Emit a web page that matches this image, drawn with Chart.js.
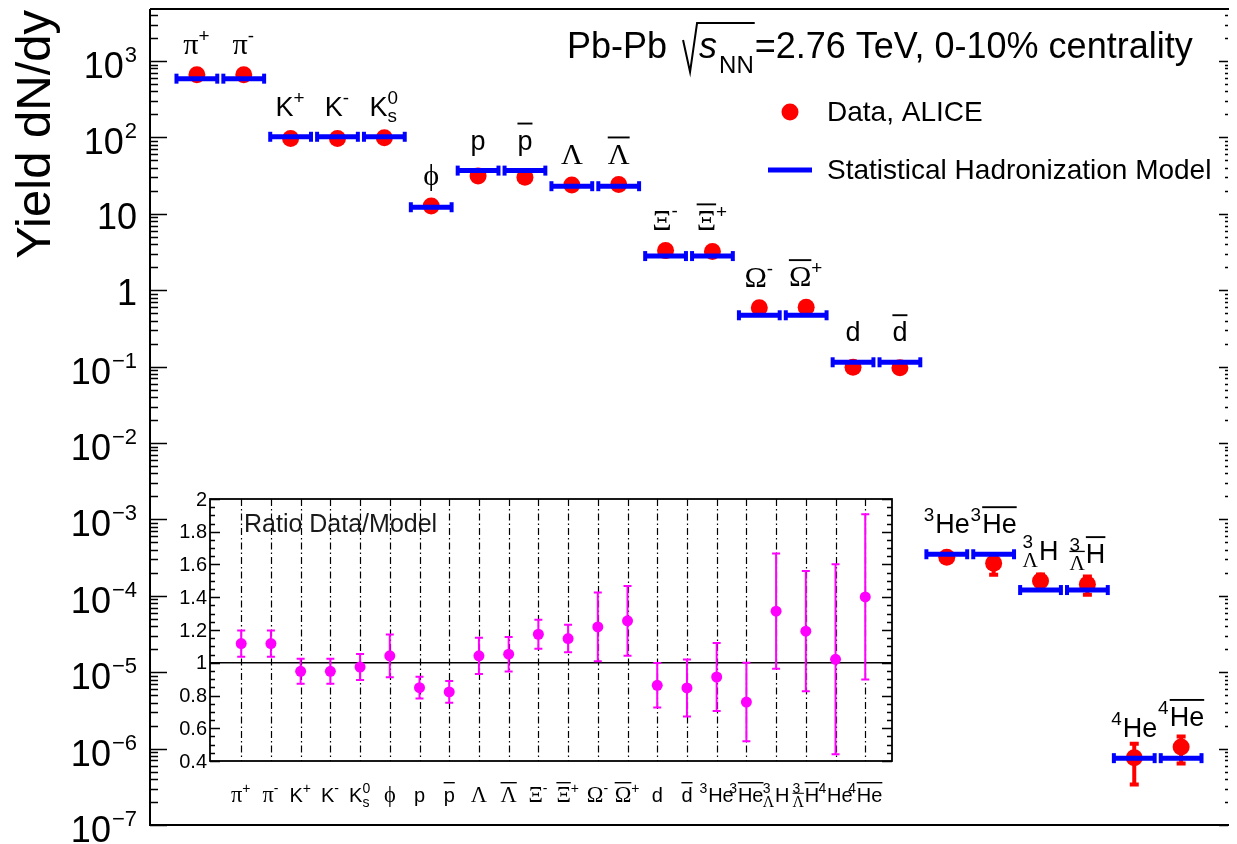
<!DOCTYPE html>
<html>
<head>
<meta charset="utf-8">
<title>Hadron yields, Pb-Pb 2.76 TeV</title>
<script src="https://cdn.jsdelivr.net/npm/chart.js@4.4.0/dist/chart.umd.min.js"></script>
<style>
  html, body { margin: 0; padding: 0; background: #fff; }
  #wrap { position: relative; width: 1237px; height: 844px; overflow: hidden; }
  #main { position: absolute; left: 0; top: 0; }
  #ratio { position: absolute; left: 170px; top: 480px; }
</style>
</head>
<body>
<div id="wrap">
  <canvas id="main" width="1237" height="844"></canvas>
  <canvas id="ratio" width="740" height="340"></canvas>
</div>
<script>
// particle names, TLatex-like markup
var particles = ['#pi^{+}', '#pi^{-}', 'K^{+}', 'K^{-}', 'K^{0}_{s}', '#phi', 'p', '#bar{p}',
  '#Lambda', '#bar{#Lambda}', '#Xi^{-}', '#bar{#Xi}^{+}', '#Omega^{-}', '#bar{#Omega}^{+}',
  'd', '#bar{d}', '^{3}He', '^{3}#bar{He}', '^{3}_{#Lambda}H', '^{3}_{#bar{#Lambda}}#bar{H}',
  '^{4}He', '^{4}#bar{He}'];

// dN/dy, statistical hadronization model
var modelYield = [588, 588, 102, 102, 102, 12.2, 36.8, 36.8, 23, 23, 2.8, 2.8, 0.47, 0.47,
  0.114, 0.114, 3.5e-4, 3.5e-4, 1.19e-4, 1.19e-4, 7.5e-7, 7.5e-7];

// dN/dy, ALICE data and uncertainties
var dataYield = [660, 660, 97, 97, 99, 12.7, 31.3, 30.2, 23.9, 24.2, 3.3, 3.22, 0.59, 0.6,
  0.098, 0.097, 3.2e-4, 2.66e-4, 1.56e-4, 1.42e-4, 7.6e-7, 1.05e-6];
var dataErr = [35, 35, 6, 6, 6, 1.2, 2.2, 2.2, 2.5, 2.5, 0.3, 0.3, 0.08, 0.08,
  0.015, 0.015, 0.3e-4, 0.83e-4, 0.4e-4, 0.42e-4, 4.3e-7, 0.43e-6];

// data / model
var ratio = [1.117, 1.117, 0.948, 0.948, 0.974, 1.042, 0.848, 0.822, 1.042, 1.052, 1.174, 1.148,
  1.219, 1.256, 0.862, 0.846, 0.913, 0.760, 1.315, 1.193, 1.021, 1.402];
var ratioErr = [0.08, 0.08, 0.076, 0.076, 0.079, 0.13, 0.066, 0.067, 0.11, 0.105, 0.089, 0.084,
  0.21, 0.213, 0.136, 0.174, 0.208, 0.24, 0.352, 0.367, 0.58, 0.505];

var yTickValues = [1e3, 1e2, 10, 1, 1e-1, 1e-2, 1e-3, 1e-4, 1e-5, 1e-6, 1e-7];
var yTickLabels = ['10^{3}', '10^{2}', '10', '1', '10^{-1}', '10^{-2}', '10^{-3}', '10^{-4}',
  '10^{-5}', '10^{-6}', '10^{-7}'];
var ratioTickValues = [0.4, 0.6, 0.8, 1, 1.2, 1.4, 1.6, 1.8, 2];
var ratioTickLabels = ['0.4', '0.6', '0.8', '1', '1.2', '1.4', '1.6', '1.8', '2'];

var titleText = 'Pb-Pb';
var titleEnergy = '=2.76 TeV, 0-10% centrality';
var legendData = 'Data, ALICE';
var legendModel = 'Statistical Hadronization Model';
var ratioTitle = 'Ratio Data/Model';
var yTitle = 'Yield dN/dy';

var SANS = '"Liberation Sans", Arial, sans-serif';
var SERIF = '"Liberation Serif", "Times New Roman", serif';
var GREEK = { pi: '\u03c0', phi: '\u03d5', Lambda: '\u039b', Xi: '\u039e', Omega: '\u03a9' };
var RED = '#ff0000', BLUE = '#0000ff', MAGENTA = '#ff00ff';

// ---- tiny TLatex subset: #greek, #bar{}, ^{}, _{} ----
function parseTex(s) {
  var out = [], i = 0;
  function group() {
    if (s[i] === '{') {
      var depth = 1, j = i + 1;
      while (depth) {
        if (s[j] === '{') depth++;
        else if (s[j] === '}') depth--;
        j++;
      }
      var inner = s.slice(i + 1, j - 1);
      i = j;
      return parseTex(inner);
    }
    return parseTex(s[i++]);
  }
  while (i < s.length) {
    var c = s[i];
    if (c === '^' || c === '_') {
      var node = { kind: 'script', sup: null, sub: null };
      while (s[i] === '^' || s[i] === '_') {
        var which = s[i] === '^' ? 'sup' : 'sub';
        i++;
        node[which] = group();
      }
      out.push(node);
    } else if (c === '#') {
      var m = /^#([A-Za-z]+)/.exec(s.slice(i));
      i += m[0].length;
      if (m[1] === 'bar') out.push({ kind: 'bar', body: group() });
      else out.push({ kind: 'text', text: GREEK[m[1]], greek: true });
    } else {
      var j = i;
      while (j < s.length && '^_#'.indexOf(s[j]) < 0) j++;
      out.push({ kind: 'text', text: s.slice(i, j) });
      i = j;
    }
  }
  return out;
}

function fontFor(node, size) {
  return node.greek ? (size * 1.12).toFixed(1) + 'px ' + SERIF : size + 'px ' + SANS;
}

function texWidth(ctx, nodes, size) {
  var w = 0;
  nodes.forEach(function (n) {
    if (n.kind === 'text') {
      ctx.font = fontFor(n, size);
      w += ctx.measureText(n.text).width;
    } else if (n.kind === 'bar') {
      w += texWidth(ctx, n.body, size);
    } else {
      var s = size * 0.7;
      w += Math.max(n.sup ? texWidth(ctx, n.sup, s) : 0, n.sub ? texWidth(ctx, n.sub, s) : 0) + size * 0.04;
    }
  });
  return w;
}

function texDraw(ctx, nodes, x, y, size) {
  nodes.forEach(function (n) {
    if (n.kind === 'text') {
      ctx.font = fontFor(n, size);
      ctx.fillText(n.text, x, y);
      x += ctx.measureText(n.text).width;
    } else if (n.kind === 'bar') {
      var w = texWidth(ctx, n.body, size);
      texDraw(ctx, n.body, x, y, size);
      ctx.fillRect(x, y - size * 1.0, w, Math.max(1, size * 0.07));
      x += w;
    } else {
      var s = size * 0.7, ws = 0, wb = 0;
      if (n.sup) { ws = texWidth(ctx, n.sup, s); texDraw(ctx, n.sup, x, y - size * 0.45, s); }
      if (n.sub) { wb = texWidth(ctx, n.sub, s); texDraw(ctx, n.sub, x, y + size * 0.24, s); }
      x += Math.max(ws, wb) + size * 0.04;
    }
  });
  return x;
}

function texCentered(ctx, str, cx, y, size) {
  var nodes = parseTex(str);
  ctx.textAlign = 'left';
  ctx.textBaseline = 'alphabetic';
  texDraw(ctx, nodes, cx - texWidth(ctx, nodes, size) / 2, y, size);
}

// ---- main chart: yields ----
function modelSegments() {
  var pts = [];
  modelYield.forEach(function (v, i) {
    pts.push({ x: i + 1 - 0.435, y: v });
    pts.push({ x: i + 1 + 0.435, y: v });
    pts.push({ x: i + 1.5, y: null });
  });
  return pts;
}

var mainDecor = {
  id: 'mainDecor',
  beforeDatasetsDraw: function (chart) {
    var ctx = chart.ctx, xs = chart.scales.x, ys = chart.scales.y;
    ctx.save();
    ctx.strokeStyle = RED;
    ctx.lineWidth = 4;
    dataYield.forEach(function (v, i) {
      var px = xs.getPixelForValue(i + 1);
      var lo = ys.getPixelForValue(v - dataErr[i]);
      var hi = ys.getPixelForValue(v + dataErr[i]);
      ctx.beginPath();
      ctx.moveTo(px, lo); ctx.lineTo(px, hi);
      ctx.moveTo(px - 4.5, lo - 1); ctx.lineTo(px + 4.5, lo - 1);
      ctx.moveTo(px - 4.5, hi + 1); ctx.lineTo(px + 4.5, hi + 1);
      ctx.stroke();
    });
    ctx.restore();
  },
  afterDraw: function (chart) {
    var ctx = chart.ctx, a = chart.chartArea, xs = chart.scales.x, ys = chart.scales.y;
    ctx.save();
    ctx.fillStyle = '#000';
    ctx.strokeStyle = '#000';

    // frame
    ctx.lineWidth = 2;
    ctx.beginPath();
    ctx.moveTo(a.left, a.top); ctx.lineTo(a.left, a.bottom); ctx.lineTo(a.right + 1, a.bottom);
    ctx.moveTo(a.left, a.top); ctx.lineTo(a.right + 1, a.top);
    ctx.stroke();

    // log ticks, left and right
    ctx.lineWidth = 1.5;
    ctx.beginPath();
    for (var d = -7; d <= 3; d++) {
      for (var k = 1; k <= 9; k++) {
        var v = k * Math.pow(10, d);
        if (v > ys.max) break;
        var py = Math.round(ys.getPixelForValue(v)) + 0.5;
        var major = k === 1;
        ctx.moveTo(a.left, py); ctx.lineTo(a.left + (major ? 17 : 8), py);
        ctx.moveTo(a.right, py); ctx.lineTo(a.right - (major ? 9 : 3), py);
      }
    }
    ctx.stroke();

    // tick labels
    ctx.textBaseline = 'alphabetic';
    ctx.textAlign = 'right';
    yTickValues.forEach(function (v, i) {
      var py = ys.getPixelForValue(v);
      var m = /^([^\^]+)(?:\^\{(.+)\})?$/.exec(yTickLabels[i]);
      var right = 137;
      if (!m[2]) {
        ctx.font = '36px ' + SANS;
        ctx.fillText(m[1], right, py + 15);
      } else {
        var ex = m[2].replace('-', '\u2212');
        ctx.font = '22px ' + SANS;
        var w = ctx.measureText(ex).width;
        ctx.fillText(ex, right, py + 1);
        ctx.font = '36px ' + SANS;
        ctx.fillText(m[1], right - w - 1, py + 17);
      }
    });

    // y title
    ctx.save();
    ctx.translate(50, 10);
    ctx.rotate(-Math.PI / 2);
    ctx.textAlign = 'right';
    ctx.font = '49px ' + SANS;
    ctx.fillText(yTitle, 0, 0);
    ctx.restore();

    // particle labels
    particles.forEach(function (p, i) {
      var px = xs.getPixelForValue(i + 1);
      var top = Math.min(ys.getPixelForValue(modelYield[i]), ys.getPixelForValue(dataYield[i]));
      texCentered(ctx, p, px, top - 21, 27);
    });

    // title with sqrt(s_NN)
    ctx.textAlign = 'left';
    ctx.font = '36px ' + SANS;
    var x = 567, y = 58;
    ctx.fillText(titleText, x, y);
    x += ctx.measureText(titleText + ' ').width + 6;
    ctx.font = 'italic 36px ' + SANS;
    var sw = ctx.measureText('s').width;
    ctx.font = '24px ' + SANS;
    var nw = ctx.measureText('NN').width;
    ctx.lineWidth = 2;
    ctx.beginPath();
    ctx.moveTo(x, y - 18); ctx.lineTo(x + 7, y + 14); ctx.lineTo(x + 14, y - 35);
    ctx.lineTo(x + 17 + sw + 2 + nw, y - 35);
    ctx.stroke();
    x += 16;
    ctx.font = 'italic 36px ' + SANS;
    ctx.fillText('s', x, y);
    x += sw + 2;
    ctx.font = '24px ' + SANS;
    ctx.fillText('NN', x, y + 15);
    x += nw + 1;
    ctx.font = '36px ' + SANS;
    ctx.fillText(titleEnergy, x, y);

    // legend
    ctx.fillStyle = RED;
    ctx.beginPath();
    ctx.arc(790, 112, 8.5, 0, Math.PI * 2);
    ctx.fill();
    ctx.strokeStyle = BLUE;
    ctx.lineWidth = 5;
    ctx.beginPath();
    ctx.moveTo(768, 170); ctx.lineTo(812, 170);
    ctx.stroke();
    ctx.fillStyle = '#000';
    ctx.font = '28px ' + SANS;
    ctx.textBaseline = 'middle';
    ctx.fillText(legendData, 827, 113);
    ctx.fillText(legendModel, 827, 171);
    ctx.restore();
  }
};

new Chart(document.getElementById('main').getContext('2d'), {
  type: 'scatter',
  data: {
    datasets: [{
      type: 'line',
      label: 'Statistical Hadronization Model',
      data: modelSegments(),
      borderColor: BLUE,
      borderWidth: 5,
      spanGaps: false,
      pointStyle: 'line',
      rotation: 90,
      pointRadius: 5,
      pointHoverRadius: 5,
      pointBorderWidth: 4,
      pointBorderColor: BLUE,
      pointBackgroundColor: BLUE
    }, {
      label: 'Data, ALICE',
      data: dataYield.map(function (v, i) { return { x: i + 1, y: v }; }),
      backgroundColor: RED,
      borderWidth: 0,
      pointRadius: 8.5,
      pointHoverRadius: 8.5
    }]
  },
  options: {
    responsive: false,
    animation: false,
    events: [],
    layout: { padding: { left: 150, top: 8, right: 1, bottom: 19 } },
    plugins: { legend: { display: false }, tooltip: { enabled: false } },
    scales: {
      x: { type: 'linear', min: 0, max: 23, display: false },
      y: { type: 'logarithmic', min: 1e-7, max: 4.8e3, display: false }
    }
  },
  plugins: [mainDecor]
});

// ---- inset: ratio data/model ----
var ratioDecor = {
  id: 'ratioDecor',
  beforeDatasetsDraw: function (chart) {
    var ctx = chart.ctx, a = chart.chartArea, xs = chart.scales.x, ys = chart.scales.y;
    ctx.save();
    ctx.fillStyle = '#1a1a1a';
    ctx.font = '25px ' + SANS;
    ctx.textBaseline = 'alphabetic';
    ctx.fillText(ratioTitle, a.left + 34, a.top + 33);

    // dash-dot guide at each species
    ctx.strokeStyle = '#000';
    ctx.lineWidth = 1.2;
    ctx.setLineDash([7, 3, 1.5, 3]);
    ctx.beginPath();
    particles.forEach(function (p, i) {
      var px = Math.round(xs.getPixelForValue(i + 1)) + 0.5;
      ctx.moveTo(px, a.top); ctx.lineTo(px, a.bottom);
    });
    ctx.stroke();
    ctx.setLineDash([]);

    // unity line
    var y1 = ys.getPixelForValue(1);
    ctx.lineWidth = 1.6;
    ctx.beginPath();
    ctx.moveTo(a.left, y1); ctx.lineTo(a.right, y1);
    ctx.stroke();

    // error bars
    ctx.strokeStyle = MAGENTA;
    ctx.lineWidth = 2;
    ctx.beginPath();
    ratio.forEach(function (v, i) {
      var px = xs.getPixelForValue(i + 1);
      var lo = ys.getPixelForValue(v - ratioErr[i]);
      var hi = ys.getPixelForValue(v + ratioErr[i]);
      ctx.moveTo(px, lo); ctx.lineTo(px, hi);
      ctx.moveTo(px - 4, lo); ctx.lineTo(px + 4, lo);
      ctx.moveTo(px - 4, hi); ctx.lineTo(px + 4, hi);
    });
    ctx.stroke();
    ctx.restore();
  },
  afterDraw: function (chart) {
    var ctx = chart.ctx, a = chart.chartArea, xs = chart.scales.x, ys = chart.scales.y;
    ctx.save();
    ctx.strokeStyle = '#000';
    ctx.fillStyle = '#000';
    ctx.lineWidth = 1.8;
    ctx.strokeRect(a.left, a.top, a.right - a.left, a.bottom - a.top);

    ctx.lineWidth = 1.3;
    ctx.beginPath();
    for (var k = 8; k <= 40; k++) {
      var v = k * 0.05;
      var py = Math.round(ys.getPixelForValue(v)) + 0.5;
      var len = k % 4 === 0 ? 10 : 5;
      ctx.moveTo(a.left, py); ctx.lineTo(a.left + len, py);
      ctx.moveTo(a.right, py); ctx.lineTo(a.right - len, py);
    }
    ctx.stroke();

    ctx.font = '20px ' + SANS;
    ctx.textAlign = 'right';
    ctx.textBaseline = 'middle';
    ratioTickValues.forEach(function (v, i) {
      ctx.fillText(ratioTickLabels[i], a.left - 3, ys.getPixelForValue(v) + 1);
    });

    particles.forEach(function (p, i) {
      texCentered(ctx, p, xs.getPixelForValue(i + 1), a.bottom + 41, 20);
    });
    ctx.restore();
  }
};

new Chart(document.getElementById('ratio').getContext('2d'), {
  type: 'scatter',
  data: {
    datasets: [{
      label: 'Ratio Data/Model',
      data: ratio.map(function (v, i) { return { x: i + 1, y: v }; }),
      backgroundColor: MAGENTA,
      borderWidth: 0,
      pointRadius: 5.5,
      pointHoverRadius: 5.5
    }]
  },
  options: {
    responsive: false,
    animation: false,
    events: [],
    layout: { padding: { left: 40, top: 19, right: 18, bottom: 59 } },
    plugins: { legend: { display: false }, tooltip: { enabled: false } },
    scales: {
      x: { type: 'linear', min: -0.05, max: 22.9, display: false },
      y: { type: 'linear', min: 0.4, max: 2, display: false }
    }
  },
  plugins: [ratioDecor]
});
</script>
</body>
</html>
